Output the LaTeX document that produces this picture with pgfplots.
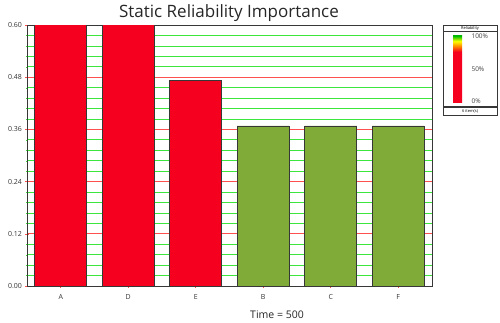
\documentclass[border=0pt]{standalone}
\usepackage{fontspec}
\setmainfont{Open Sans}
\usepackage{pgfplots}
\pgfplotsset{compat=1.18}
\definecolor{barred}{RGB}{245,0,30}
\definecolor{bargreen}{RGB}{128,171,56}
\definecolor{gridred}{RGB}{255,80,80}
\definecolor{gridgreen}{RGB}{60,230,60}
\definecolor{edge}{RGB}{55,55,55}
\pgfdeclareverticalshading{rel}{100bp}{color(0bp)=(barred); color(25bp)=(barred); color(63bp)=(barred); color(67bp)=(orange); color(71bp)=(yellow); color(75bp)=(green!75!black); color(100bp)=(green!75!black)}
\begin{document}
\begin{tikzpicture}[x=1pt,y=1pt]
\path[use as bounding box] (0pt,0pt) rectangle (500pt,322pt);
\node[font=\fontsize{17}{19}\selectfont, text=black!85] at (229pt,309pt) {Static Reliability Importance};
\begin{axis}[at={(27pt,36pt)}, anchor=south west, scale only axis, width=405pt, height=261pt,
  ymin=0, ymax=0.6, xmin=-0.5, xmax=5.5,
  ytick={0,0.12,0.24,0.36,0.48,0.6},
  minor ytick={0.024,0.048,0.072,0.096,0.144,0.168,0.192,0.216,0.264,0.288,0.312,0.336,0.384,0.408,0.432,0.456,0.504,0.528,0.552,0.576},
  yticklabel style={/pgf/number format/fixed, /pgf/number format/fixed zerofill, /pgf/number format/precision=2, font=\fontsize{7}{8}\selectfont, text=black!80},
  /pgf/number format/assume math mode=true,
  ymajorgrids, yminorgrids,
  major grid style={gridred, line width=0.7pt},
  minor grid style={gridgreen, line width=0.7pt},
  xtick={0,...,5}, xticklabels={A,D,E,B,C,F},
  xticklabel style={font=\fontsize{7}{8}\selectfont, text=black!80, yshift=-3pt},
  major tick style={gridred, line width=0.6pt},
  minor tick style={gridgreen},
  major tick length=3pt, minor tick length=2pt,
  tick align=center, tick pos=left,
  axis line style={edge, line width=0.8pt},
  clip=true,
]
\addplot[ybar, bar width=52pt, fill=barred, draw=edge, line width=0.8pt] coordinates {(0,0.61) (1,0.61) (2,0.473)};
\addplot[ybar, bar width=52pt, fill=bargreen, draw=edge, line width=0.8pt] coordinates {(3,0.368) (4,0.368) (5,0.368)};
\end{axis}
\node[font=\fontsize{10.5}{12}\selectfont, text=black!85] at (277pt,7pt) {Time = 500};
% legend box
\draw[edge, line width=0.8pt] (443pt,207pt) rectangle (497pt,297pt);
\draw[edge, line width=0.6pt] (443pt,291pt) -- (497pt,291pt);
\node[font=\fontsize{4}{5}\selectfont] at (470pt,294pt) {Reliability};
\shade[shading=rel] (453pt,220pt) rectangle (462pt,286pt);
\node[font=\fontsize{6.5}{7}\selectfont, anchor=west, text=black!75] at (468pt,286pt) {100\%};
\node[font=\fontsize{6.5}{7}\selectfont, anchor=west, text=black!75] at (468pt,253pt) {50\%};
\node[font=\fontsize{6.5}{7}\selectfont, anchor=west, text=black!75] at (468pt,221pt) {0\%};
\draw[edge, line width=0.6pt] (443pt,216pt) -- (497pt,216pt);
\draw[edge, line width=0.6pt] (443pt,214.5pt) -- (497pt,214.5pt);
\node[font=\fontsize{4}{5}\selectfont] at (470pt,211pt) {6 item(s)};
\end{tikzpicture}
\end{document}
